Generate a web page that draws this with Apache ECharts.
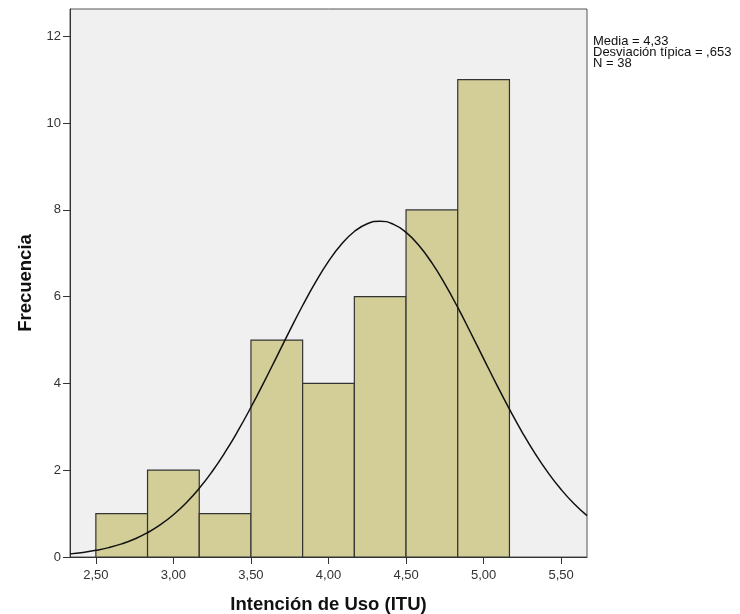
<!DOCTYPE html>
<html>
<head>
<meta charset="utf-8">
<script src="https://cdn.jsdelivr.net/npm/echarts@6/dist/echarts.min.js"></script>
<style>html,body{margin:0;padding:0;background:#fff;}#c{width:740px;height:614px;}</style>
</head>
<body>
<div id="c"></div>
<script>
// Histogram bins (start, end) and frequencies
const binStarts = [2.5, 2.8333, 3.1667, 3.5, 3.8333, 4.1667, 4.5, 4.8333];
const binEnds   = [2.8333, 3.1667, 3.5, 3.8333, 4.1667, 4.5, 4.8333, 5.1667];
const counts    = [1, 2, 1, 5, 4, 6, 8, 11];
// Normal curve (Media 4,33, Desv. 0,653, N 38)
const curveX = [2.3333, 2.4167, 2.5, 2.5833, 2.6667, 2.75, 2.8333, 2.9167, 3.0, 3.0833,
                3.1667, 3.25, 3.3333, 3.4167, 3.5, 3.5833, 3.6667, 3.75, 3.8333, 3.9167,
                4.0, 4.0833, 4.1667, 4.25, 4.3333, 4.4167, 4.5, 4.5833, 4.6667, 4.75,
                4.8333, 4.9167, 5.0, 5.0833, 5.1667, 5.25, 5.3333, 5.4167, 5.5, 5.5833, 5.6667];
const curveY = [0.072, 0.106, 0.153, 0.216, 0.302, 0.415, 0.560, 0.744, 0.973, 1.251,
                1.583, 1.971, 2.415, 2.911, 3.451, 4.025, 4.620, 5.217, 5.796, 6.335,
                6.812, 7.207, 7.502, 7.682, 7.740, 7.672, 7.482, 7.179, 6.777, 6.294,
                5.751, 5.169, 4.573, 3.979, 3.406, 2.869, 2.377, 1.938, 1.555, 1.227, 0.952];
// Tick labels
const xTicks = [2.5, 3.0, 3.5, 4.0, 4.5, 5.0, 5.5];
const yTicks = [0, 2, 4, 6, 8, 10, 12];
const statsLines = ['Media = 4,33', 'Desviación típica = ,653', 'N = 38'];

const chart = echarts.init(document.getElementById('c'), null, {renderer: 'canvas'});
const font = 'Liberation Sans, Arial, sans-serif';
const bars = binStarts.map((s, i) => [s, binEnds[i], counts[i]]);
const curve = curveX.map((x, i) => [x, curveY[i]]);

chart.setOption({
  animation: false,
  textStyle: {fontFamily: font},
  grid: {left: 70, top: 9, width: 517, height: 548, show: true, backgroundColor: '#f0f0f0',
         borderColor: '#555', borderWidth: 1, containLabel: false, outerBoundsMode: 'none'},
  xAxis: {
    type: 'value', min: 2.3333, max: 5.6667,
    name: 'Intención de Uso (ITU)', nameLocation: 'middle', nameGap: 38,
    nameTextStyle: {fontSize: 18.5, fontWeight: 'bold', color: '#111', fontFamily: font},
    axisLine: {show: true, lineStyle: {color: '#333', width: 1}},
    axisTick: {show: true, length: 7, customValues: xTicks, lineStyle: {color: '#333'}},
    axisLabel: {customValues: xTicks, margin: 12, fontSize: 13, color: '#333', fontFamily: font,
      formatter: v => v.toFixed(2).replace('.', ',')},
    splitLine: {show: false}
  },
  yAxis: {
    type: 'value', min: 0, max: 12.63,
    name: 'Frecuencia', nameLocation: 'middle', nameGap: 35, nameRotate: 90,
    nameTextStyle: {fontSize: 18.5, fontWeight: 'bold', color: '#111', fontFamily: font},
    axisLine: {show: true, lineStyle: {color: '#333', width: 1}},
    axisTick: {show: true, length: 7, customValues: yTicks, lineStyle: {color: '#333'}},
    axisLabel: {customValues: yTicks, margin: 9, fontSize: 13, color: '#333', fontFamily: font},
    splitLine: {show: false}
  },
  graphic: [{
    type: 'text', left: 593, top: 35,
    style: {text: statsLines.join('\n'), font: '13px ' + font, fill: '#111', lineHeight: 11}
  }],
  series: [{
    type: 'custom',
    data: bars,
    encode: {x: [0, 1], y: 2},
    renderItem: function (params, api) {
      const p0 = api.coord([api.value(0), 0]);
      const p1 = api.coord([api.value(1), api.value(2)]);
      return {
        type: 'rect',
        shape: {x: p0[0], y: p1[1], width: p1[0] - p0[0], height: p0[1] - p1[1]},
        style: {fill: '#d3ce97', stroke: '#333', lineWidth: 1.2}
      };
    },
    z: 2
  }, {
    type: 'line', data: curve, smooth: true, showSymbol: false, symbol: 'none',
    lineStyle: {color: '#111', width: 1.5}, z: 3, clip: true
  }]
});
</script>
</body>
</html>
